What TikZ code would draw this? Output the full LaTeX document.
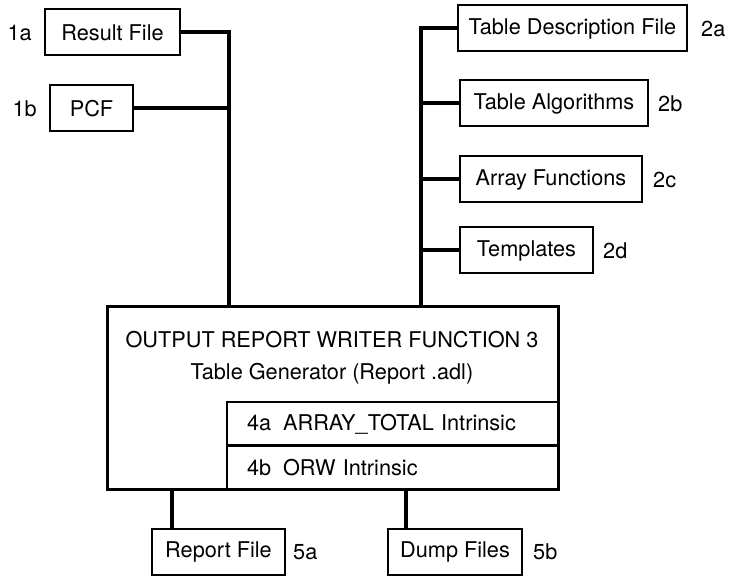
\documentclass[tikz,border=0pt]{standalone}
\usepackage{fontspec}
\setmainfont{TeX Gyre Heros}
\usetikzlibrary{positioning}

\begin{document}
\begin{tikzpicture}[x=1pt, y=-1pt, font=\fontsize{21.7}{25}\selectfont,
	filebox/.style={draw, line width=2pt, minimum height=46pt, inner sep=0pt},
	mainbox/.style={draw, line width=3pt, minimum width=451pt, minimum height=183pt},
	rowbox/.style={draw, line width=2pt, minimum width=331pt, inner xsep=20pt, inner ysep=0pt, text width=291pt, align=left},
	tag/.style={inner sep=0pt},
	link/.style={line width=4pt}]
	\useasboundingbox (0,0) rectangle (729,577);

	% Nodes {inputs, tables, writer, outputs}
	\node [filebox, minimum width=135pt]	(rf)	at (112.5,32.5)	{Result File};
	\node [filebox, minimum width=83pt]		(pcf)	at (91.5,108.5)	{PCF};
	\node [filebox, minimum width=229pt]	(tdf)	at (572.5,28.5)	{Table Description File};
	\node [filebox, minimum width=188pt]	(ta)	at (554,103.5)	{Table Algorithms};
	\node [filebox, minimum width=182pt]	(af)	at (551,179.5)	{Array Functions};
	\node [filebox, minimum width=133pt]	(tpl)	at (526.5,250.5)	{Templates};
	\node [mainbox]							(orw)	at (332.5,398.5)	{};
	\node [anchor=base]						(orw1)	at (332,348)	{OUTPUT REPORT WRITER FUNCTION 3};
	\node [anchor=base]						(orw2)	at (332,380)	{Table Generator (Report .adl)};
	\node [rowbox, minimum height=44pt]		(r4a)	at (392.5,424)	{4a\hspace{12pt}ARRAY\_TOTAL Intrinsic};
	\node [rowbox, minimum height=45pt]		(r4b)	at (392.5,467.5)	{4b\hspace{12pt}ORW Intrinsic};
	\node [filebox, minimum width=133pt]	(rpt)	at (218.5,552)	{Report File};
	\node [filebox, minimum width=134pt]	(dmp)	at (455,551.5)	{Dump Files};

	% Labels
	\node [tag, left=12pt of rf]	(l1a)	{1a};
	\node [tag, left=12pt of pcf]	(l1b)	{1b};
	\node [tag, right=13pt of tdf]	(l2a)	{2a};
	\node [tag, right=9pt of ta]	(l2b)	{2b};
	\node [tag, right=10pt of af]	(l2c)	{2c};
	\node [tag, right=9pt of tpl]	(l2d)	{2d};
	\node [tag, right=7pt of rpt]	(l5a)	{5a};
	\node [tag, right=10pt of dmp]	(l5b)	{5b};

	% Paths
	\coordinate (trunkA) at ([xshift=123pt]orw.north west);
	\coordinate (trunkB) at ([xshift=315pt]orw.north west);
	\coordinate (outA) at ([xshift=21pt]rpt.north west);
	\coordinate (outB) at ([xshift=19pt]dmp.north west);
	\draw [link] (rf.east) -| (trunkA);
	\draw [link] (pcf.east) -- (pcf.east -| trunkA);
	\draw [link] (tdf.west) -| (trunkB);
	\draw [link] (ta.west) -- (ta.west -| trunkB);
	\draw [link] (af.west) -- (af.west -| trunkB);
	\draw [link] (tpl.west) -- (tpl.west -| trunkB);
	\draw [link] (outA |- orw.south) -- (outA);
	\draw [link] (outB |- orw.south) -- (outB);

\end{tikzpicture}
\end{document}
